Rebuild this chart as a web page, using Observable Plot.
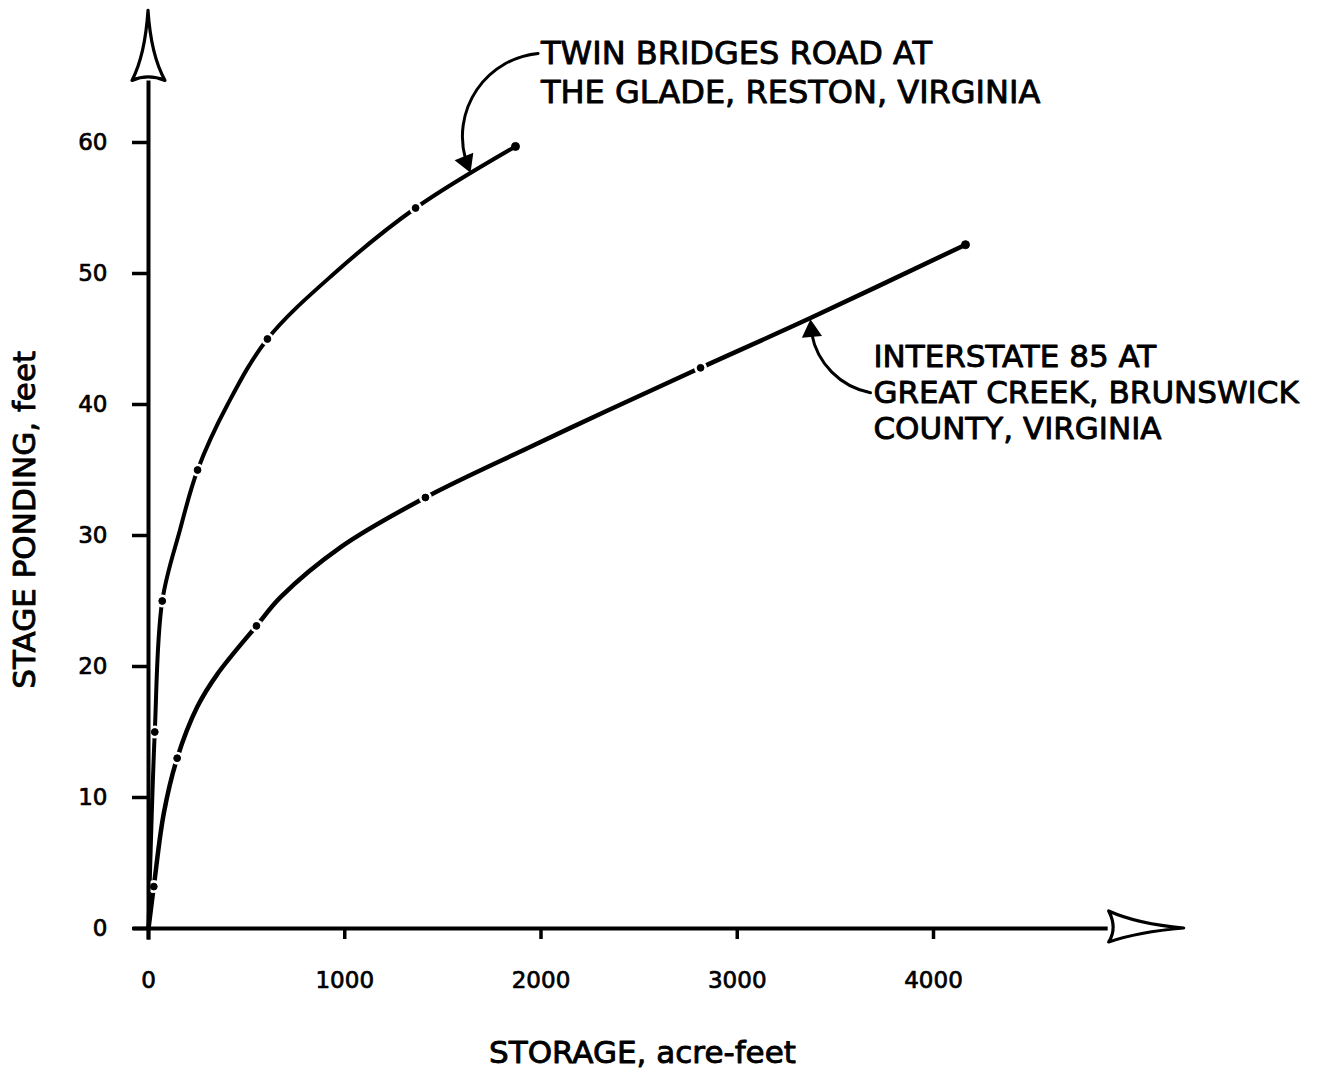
<!DOCTYPE html>
<html><head><meta charset="utf-8">
<script src="https://cdn.jsdelivr.net/npm/d3@7"></script>
<script src="https://cdn.jsdelivr.net/npm/@observablehq/plot@0.6"></script>
<style>body{margin:0;background:#fff}</style>
</head><body><div id="chart"></div>
<script>
// tick values
const xTicks = [0, 1000, 2000, 3000, 4000];
const yTicks = [0, 10, 20, 30, 40, 50, 60];

// Twin Bridges Road at The Glade, Reston, Virginia
const twinStorage = [0, 12, 32, 70, 160, 250, 403, 606, 946, 1361, 1870];
const twinStage   = [0, 6.5, 15, 25, 30.4, 35, 40, 45, 50, 55, 59.7];
const twinDotStorage = [32, 70, 250, 606, 1361];
const twinDotStage   = [15, 25, 35, 45, 55];

// Interstate 85 at Great Creek, Brunswick County, Virginia
const i85Storage = [0, 27, 78, 146, 248, 350, 550, 673, 978, 1411, 1936, 2334, 2813, 3373, 4163];
const i85Stage   = [0, 3.2, 8.8, 13, 16.9, 19.4, 23.1, 25.3, 29.1, 32.9, 36.7, 39.5, 42.8, 46.6, 52.2];
const i85DotStorage = [27, 146, 550, 1411, 2813];
const i85DotStage   = [3.2, 13, 23.1, 32.9, 42.8];

const endStorage = [1870, 4163];
const endStage = [59.7, 52.2];

const twinLabel = ["TWIN BRIDGES ROAD AT", "THE GLADE, RESTON, VIRGINIA"];
const i85Label = ["INTERSTATE 85 AT", "GREAT CREEK, BRUNSWICK", "COUNTY, VIRGINIA"];
const xTitle = "STORAGE, acre-feet";
const yTitle = "STAGE PONDING, feet";

const twin = twinStorage.map((s, i) => ({storage: s, stage: twinStage[i]}));
const i85 = i85Storage.map((s, i) => ({storage: s, stage: i85Stage[i]}));
const dots = [
  ...twinDotStorage.map((s, i) => ({storage: s, stage: twinDotStage[i]})),
  ...i85DotStorage.map((s, i) => ({storage: s, stage: i85DotStage[i]}))
];
const ends = endStorage.map((s, i) => ({storage: s, stage: endStage[i]}));

// leader arrows (annotation anchors, data units)
const twinLeader = {x1: 1985, y1: 66.8, x2: 1641, y2: 57.7};
const i85Leader = {x1: 3679, y1: 40.9, x2: 3373, y2: 46.5};

const xAxisStart = -76, xAxisEnd = 4890;
const yAxisStart = -0.9, yAxisEnd = 64.7;

const FONT = "DejaVu Sans, sans-serif";

function axisArrows(index, scales) {
  const x0 = scales.x(0), y0 = scales.y(0);
  const xb = scales.x(xAxisEnd), yb = scales.y(yAxisEnd);
  const g = d3.create("svg:g")
    .attr("fill", "white").attr("stroke", "black")
    .attr("stroke-width", 3.2).attr("stroke-linejoin", "round");
  const xt = xb + 76;
  g.append("path").attr("d",
    `M${xt},${y0} Q${xb+30},${y0-4} ${xb+1},${y0-17} Q${xb+10},${y0} ${xb+1},${y0+14} Q${xb+30},${y0+4} ${xt},${y0} Z`);
  const yt = yb - 70;
  g.append("path").attr("d",
    `M${x0},${yt} Q${x0-3},${yb-25} ${x0-16},${yb} Q${x0},${yb-7} ${x0+17},${yb} Q${x0+3},${yb-25} ${x0},${yt} Z`);
  return g.node();
}

const txt = {fill: "black", stroke: "black", strokeWidth: 0.9, fontSize: 31};

const plot = Plot.plot({
  width: 1317,
  height: 1077,
  marginLeft: 148, marginRight: 384, marginTop: 142, marginBottom: 149,
  x: {domain: [0, 4000]},
  y: {domain: [0, 60]},
  style: {fontFamily: FONT, background: "white", color: "black"},
  marks: [
    Plot.line(twin, {x: "storage", y: "stage", curve: "catmull-rom", strokeWidth: 4, strokeLinecap: "round"}),
    Plot.line(i85, {x: "storage", y: "stage", curve: "catmull-rom", strokeWidth: 4.5, strokeLinecap: "round"}),
    Plot.dot(dots, {x: "storage", y: "stage", r: 6.5, fill: "white", stroke: "none"}),
    Plot.dot(dots, {x: "storage", y: "stage", r: 3.4, fill: "black", stroke: "black", strokeWidth: 1}),
    Plot.dot(ends, {x: "storage", y: "stage", r: 4, fill: "black", stroke: "black", strokeWidth: 1}),
    Plot.ruleY([0], {x1: xAxisStart, x2: xAxisEnd, strokeWidth: 4}),
    Plot.ruleX([0], {y1: yAxisStart, y2: yAxisEnd, strokeWidth: 4}),
    Plot.axisX({ticks: xTicks, label: null, tickSize: 11, tickPadding: 32, fontSize: 23, strokeWidth: 3.5,
      tickFormat: d => String(d), textStroke: "black", textStrokeWidth: 0.7}),
    Plot.axisY({ticks: yTicks, label: null, tickSize: 16, tickPadding: 25, fontSize: 23, strokeWidth: 3.5,
      tickFormat: d => String(d), textStroke: "black", textStrokeWidth: 0.7}),
    axisArrows,
    Plot.arrow([twinLeader], {x1: "x1", y1: "y1", x2: "x2", y2: "y2", bend: -55, strokeWidth: 3, headLength: 0, insetEnd: 14}),
    Plot.arrow([i85Leader], {x1: "x1", y1: "y1", x2: "x2", y2: "y2", bend: 40, strokeWidth: 3, headLength: 0, insetEnd: 14}),
    Plot.dot([twinLeader], {x: "x2", y: "y2", symbol: "triangle", r: 7.5, rotate: 158, fill: "black", dx: -4.4, dy: -10.8}),
    Plot.dot([i85Leader], {x: "x2", y: "y2", symbol: "triangle", r: 7.5, rotate: -5, fill: "black", dx: 1, dy: 11.6}),
    Plot.text([twinLabel.join("\n")], {x: 2000, y: 68.15, text: d => d, textAnchor: "start", lineAnchor: "top",
      lineHeight: 1.23, ...txt, fontSize: 32}),
    Plot.text([i85Label.join("\n")], {x: 3694, y: 44.78, text: d => d, textAnchor: "start", lineAnchor: "top",
      lineHeight: 1.16, ...txt}),
    Plot.text([xTitle], {x: 2517, y: -9.54, text: d => d, ...txt}),
    Plot.text([yTitle], {x: -627, y: 31.2, text: d => d, rotate: -90, ...txt})
  ]
});
document.getElementById("chart").append(plot);
</script>
</body></html>
